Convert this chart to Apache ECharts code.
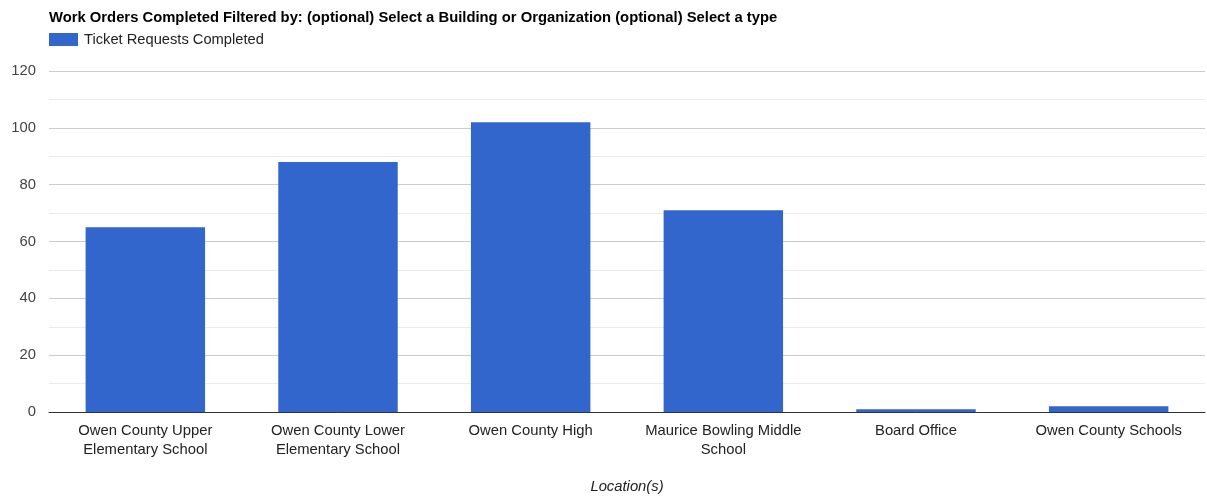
<!DOCTYPE html>
<html><head><meta charset="utf-8">
<script src="https://cdn.jsdelivr.net/npm/echarts@6/dist/echarts.min.js"></script>
<style>html,body{margin:0;padding:0;background:#fff}#c{width:1207px;height:499px}</style>
</head><body><div id="c"></div>
<script>
const categories = ["Owen County Upper\nElementary School", "Owen County Lower\nElementary School", "Owen County High", "Maurice Bowling Middle\nSchool", "Board Office", "Owen County Schools"];
const ticketsCompleted = [65, 88, 102, 71, 1, 2];
const seriesName = "Ticket Requests Completed";
const titleText = "Work Orders Completed Filtered by: (optional) Select a Building or Organization (optional) Select a type";
const xAxisName = "Location(s)";

const chart = echarts.init(document.getElementById('c'), null, {renderer: 'canvas'});
const font = 'Arial, "Liberation Sans", sans-serif';
chart.setOption({
  animation: false,
  textStyle: {fontFamily: font},
  title: {text: titleText, left: 44, top: 5, textStyle: {fontSize: 14.8, fontWeight: 'bold', color: '#000', fontFamily: font}},
  legend: {left: 44, top: 27, itemWidth: 29, itemHeight: 13, itemGap: 6, icon: 'rect',
    textStyle: {fontSize: 14.7, color: '#222', fontFamily: font, padding: [0,0,0,1]}},
  grid: {left: 49, right: 2, top: 71, bottom: 73, containLabel: false},
  xAxis: {type: 'category', data: categories, name: xAxisName, nameLocation: 'middle', nameGap: 67,
    nameTextStyle: {fontSize: 14.8, fontStyle: 'italic', color: '#222', fontFamily: font},
    axisTick: {show: false}, axisLine: {lineStyle: {color: '#333', width: 1}},
    axisLabel: {fontSize: 14.8, color: '#222', margin: 9, lineHeight: 19, interval: 0, fontFamily: font},
    splitLine: {show: false}},
  yAxis: {type: 'value', min: 0, max: 120, interval: 20,
    axisLabel: {fontSize: 14.8, color: '#444', margin: 13, fontFamily: font},
    axisLine: {show: false}, axisTick: {show: false},
    splitLine: {lineStyle: {color: '#cccccc', width: 1}},
    minorTick: {show: false, splitNumber: 2},
    minorSplitLine: {show: true, lineStyle: {color: '#ebebeb', width: 1}}},
  series: [{name: seriesName, type: 'bar', data: ticketsCompleted, barWidth: '62%',
    itemStyle: {color: '#3366cc'}}]
});
</script></body></html>
